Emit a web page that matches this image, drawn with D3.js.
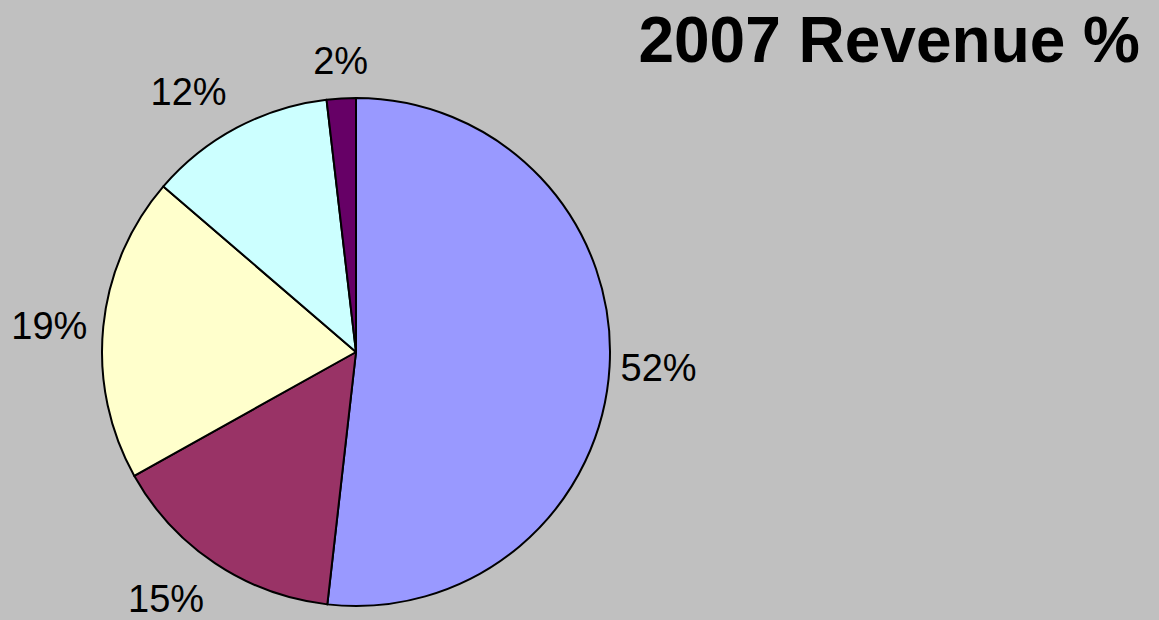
<!DOCTYPE html>
<html>
<head>
<meta charset="utf-8">
<script src="https://cdn.jsdelivr.net/npm/d3@7"></script>
<style>
  body { margin: 0; background: #c0c0c0; }
  svg { display: block; font-family: "Liberation Sans", Arial, sans-serif; }
</style>
</head>
<body>
<svg id="pieChart" width="1159" height="620"></svg>
<script>
// data, clockwise from 12 o'clock
const segments = ["A", "B", "C", "D", "E"];
const shares = [51.8, 15.1, 19.4, 11.85, 1.85];
const sliceColors = ["#9999ff", "#993366", "#ffffcc", "#ccffff", "#660066"];
const chartTitle = "2007 Revenue %";

const svg = d3.select("#pieChart");
const width = +svg.attr("width");
const height = +svg.attr("height");

svg.append("rect")
    .attr("width", width)
    .attr("height", height)
    .attr("fill", "#c0c0c0");

const cx = 356, cy = 352, radius = 254, anchorRadius = 265;
const fontSize = 38;

const colorScale = d3.scaleOrdinal().domain(segments).range(sliceColors);

const pieData = d3.pie().sort(null).value(d => d.value)(
    segments.map((s, i) => ({name: s, value: shares[i]}))
);

const arcGen = d3.arc().innerRadius(0).outerRadius(radius);

const pieG = svg.append("g").attr("transform", `translate(${cx},${cy})`);

pieG.selectAll("path")
    .data(pieData)
    .join("path")
    .attr("d", arcGen)
    .attr("fill", d => colorScale(d.data.name))
    .attr("stroke", "#000")
    .attr("stroke-width", 2)
    .attr("stroke-linejoin", "round");

// labels sit just outside the rim, box aligned by quadrant (like excel)
pieG.selectAll("text")
    .data(pieData)
    .join("text")
    .each(function(d){
        const a = (d.startAngle + d.endAngle) / 2;
        const s = Math.sin(a), c = Math.cos(a);
        let px = anchorRadius * s;
        let py = -anchorRadius * c;
        let anchor = "middle";
        if (s > 0.2) { anchor = "start"; px += 0; }
        else if (s < -0.2) { anchor = "end"; px -= 5; }
        let base;
        if (c > 0.2) base = py - 13;
        else if (c < -0.2) base = py + 39;
        else base = py + fontSize * 0.36;
        d3.select(this)
            .attr("x", px)
            .attr("y", base)
            .attr("text-anchor", anchor);
    })
    .attr("font-size", fontSize)
    .attr("fill", "#000")
    .text(d => Math.round(d.data.value) + "%");

// title
svg.append("text")
    .attr("x", 1140)
    .attr("y", 62)
    .attr("text-anchor", "end")
    .attr("font-size", 64)
    .attr("font-weight", "bold")
    .attr("fill", "#000")
    .text(chartTitle);
</script>
</body>
</html>
